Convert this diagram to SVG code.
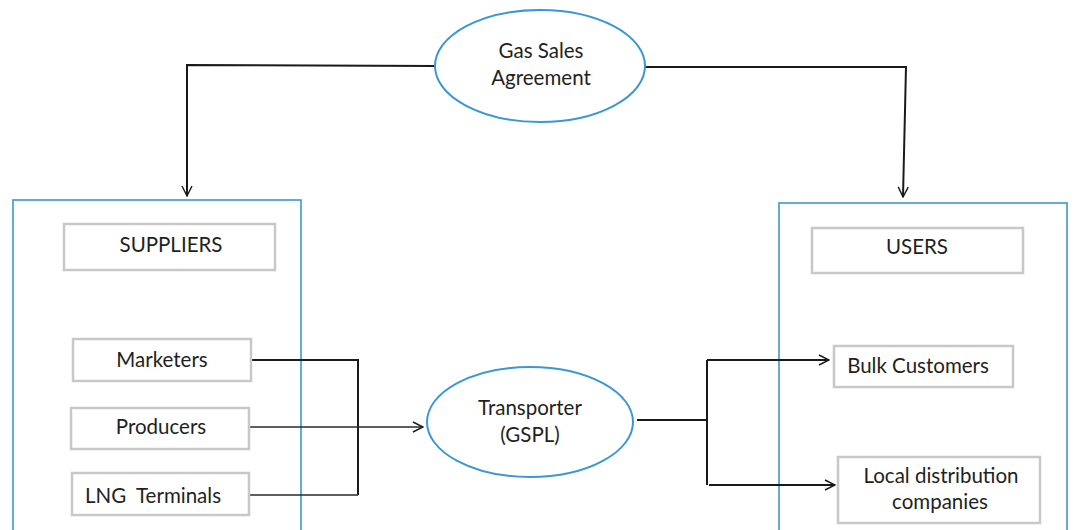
<svg xmlns="http://www.w3.org/2000/svg" width="1074" height="530" viewBox="0 0 1074 530">
  <style>
    .ell { fill: #ffffff; stroke: #3b97d3; stroke-width: 2; }
    .panel { fill: none; stroke: #3b97d3; stroke-width: 1.6; }
    .box { fill: #ffffff; stroke: #c8c8c8; stroke-width: 2.5; }
    .lbl { font-family: Lato, "Open Sans", sans-serif; font-size: 20.5px; fill: #231f20; text-anchor: middle; white-space: pre; }
    .wire { fill: none; stroke: #1a1a1a; stroke-width: 2; }
    .thin { fill: none; stroke: #2a2a2a; stroke-width: 1.3; }
  </style>
  <defs>
    <marker id="open" viewBox="0 0 12 12" refX="11" refY="6" markerWidth="12" markerHeight="12" markerUnits="userSpaceOnUse" orient="auto">
      <path d="M1,1 L11,6 L1,11" fill="none" stroke="#1a1a1a" stroke-width="1.4"/>
    </marker>
  </defs>

  <rect width="1074" height="530" fill="#ffffff"/>

  <!-- container panels -->
  <g id="suppliers-panel">
    <rect class="panel" x="13" y="200" width="288" height="340"/>
  </g>
  <g id="users-panel">
    <rect class="panel" x="779" y="203" width="288" height="340"/>
  </g>

  <!-- connectors -->
  <g id="connectors">
    <polyline class="wire" points="435,66 187,65 187,196" marker-end="url(#open)"/>
    <polyline class="wire" points="645,67 906,67 903,197" marker-end="url(#open)"/>
    <polyline class="wire" points="250,360 358,360 358,495"/>
    <line class="thin" x1="249" y1="495" x2="358" y2="495"/>
    <line class="thin" x1="249" y1="427" x2="423" y2="427" marker-end="url(#open)"/>
    <line class="wire" x1="637" y1="420" x2="707" y2="420"/>
    <line class="wire" x1="707" y1="360" x2="707" y2="485"/>
    <line class="wire" x1="707" y1="360" x2="829" y2="360" marker-end="url(#open)"/>
    <line class="wire" x1="709" y1="485" x2="835" y2="485" marker-end="url(#open)"/>
  </g>

  <g id="gas-sales-agreement">
    <ellipse class="ell" cx="540" cy="66" rx="105" ry="56"/>
    <text class="lbl" x="541" y="58">Gas Sales</text>
    <text class="lbl" x="541" y="85">Agreement</text>
  </g>

  <g id="transporter">
    <ellipse class="ell" cx="530" cy="422" rx="103" ry="55"/>
    <text class="lbl" x="530" y="415">Transporter</text>
    <text class="lbl" x="530" y="442">(GSPL)</text>
  </g>

  <g id="suppliers">
    <rect class="box" x="64" y="224" width="211" height="46"/>
    <text class="lbl" x="171" y="252">SUPPLIERS</text>
  </g>
  <g id="marketers">
    <rect class="box" x="73" y="339" width="178" height="42"/>
    <text class="lbl" x="162" y="367">Marketers</text>
  </g>
  <g id="producers">
    <rect class="box" x="71" y="408" width="178" height="41"/>
    <text class="lbl" x="161" y="434">Producers</text>
  </g>
  <g id="lng-terminals">
    <rect class="box" x="72" y="473" width="177" height="42"/>
    <text class="lbl" x="153" y="503" xml:space="preserve">LNG  Terminals</text>
  </g>

  <g id="users">
    <rect class="box" x="812" y="228" width="211" height="45"/>
    <text class="lbl" x="917" y="254">USERS</text>
  </g>
  <g id="bulk-customers">
    <rect class="box" x="834" y="346" width="179" height="41" stroke-width="1.8"/>
    <text class="lbl" x="918" y="373">Bulk Customers</text>
  </g>
  <g id="local-distribution">
    <rect class="box" x="838" y="457" width="202" height="66" stroke-width="1.8"/>
    <text class="lbl" x="941" y="483">Local distribution</text>
    <text class="lbl" x="940" y="509">companies</text>
  </g>
</svg>
